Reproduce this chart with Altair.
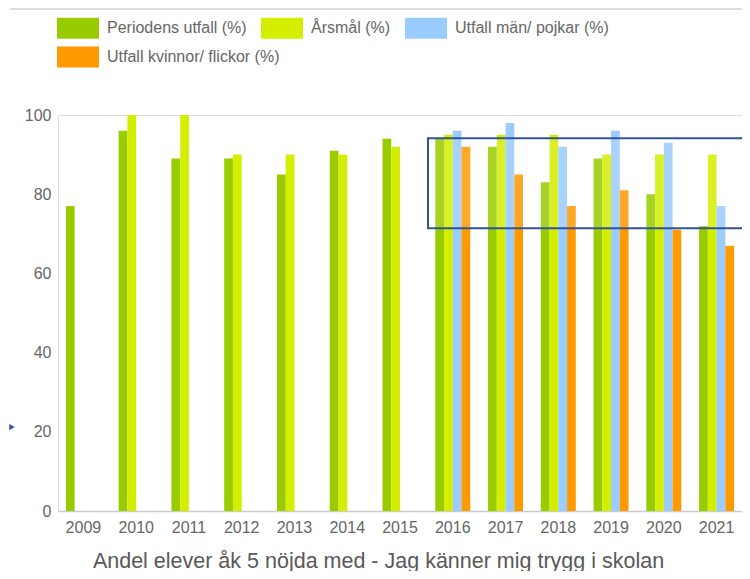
import altair as alt
import pandas as pd

years = ["2009", "2010", "2011", "2012", "2013", "2014", "2015",
         "2016", "2017", "2018", "2019", "2020", "2021"]
series_names = ["Periodens utfall (%)", "Årsmål (%)",
                "Utfall män/ pojkar (%)", "Utfall kvinnor/ flickor (%)"]
series_colors = ["#99cc00", "#d4ee00", "#99ccff", "#ff9900"]

periodens = [77, 96, 89, 89, 85, 91, 94, 94, 92, 83, 89, 80, 72]
arsmal = [None, 100, 100, 90, 90, 90, 92, 95, 95, 95, 90, 90, 90]
man = [None, None, None, None, None, None, None, 96, 98, 92, 96, 93, 77]
kvinnor = [None, None, None, None, None, None, None, 92, 85, 77, 81, 71, 67]

y_ticks = [0, 20, 40, 60, 80, 100]
x_title = "Andel elever åk 5 nöjda med - Jag känner mig trygg i skolan"

rows = []
for name, vals in zip(series_names, [periodens, arsmal, man, kvinnor]):
    for yr, v in zip(years, vals):
        if v is not None:
            rows.append({"year": yr, "series": name, "value": v})
df = pd.DataFrame(rows)
df_a = df[df["series"] != series_names[3]]
df_b = df[df["series"] == series_names[3]]

FONT = "Liberation Sans"
W, H = 684, 396

legend_common = dict(title=None, orient="none", legendX=-1, direction="horizontal",
                     symbolType="M-1,-0.5H1V0.5H-1Z", symbolSize=1764,
                     symbolStrokeWidth=0, symbolOpacity=1,
                     labelFontSize=16, labelColor="#666666",
                     labelFont=FONT, labelOffset=8, labelLimit=400,
                     columnPadding=14)

x_enc = alt.X("year:N", sort=years,
              scale=alt.Scale(domain=years, paddingInner=0.337, paddingOuter=0.15),
              axis=alt.Axis(title=x_title, labelAngle=0, ticks=False,
                            labelPadding=8, domainColor="#cccccc", domainWidth=1.5,
                            labelFontSize=16, labelColor="#666666", labelFont=FONT,
                            titleFontSize=21.5, titleColor="#595959", titleFont=FONT,
                            titleFontWeight="normal", titleX=320, titleY=39,
                            titleAlign="center", titleBaseline="top"))
xoff_enc = alt.XOffset("series:N",
                       scale=alt.Scale(domain=series_names, paddingInner=0, paddingOuter=0))
y_enc = alt.Y("value:Q", scale=alt.Scale(domain=[0, 100], nice=False),
              axis=alt.Axis(title=None, values=y_ticks, domain=False, ticks=False,
                            grid=False, labelPadding=7, labelFontSize=16,
                            labelColor="#666666", labelFont=FONT))

bars_a = alt.Chart(df_a).mark_bar().encode(
    x=x_enc, xOffset=xoff_enc, y=y_enc,
    color=alt.Color("series:N",
                    scale=alt.Scale(domain=series_names[:3], range=series_colors[:3]),
                    legend=alt.Legend(legendY=-108, **legend_common)),
)

bars_b = alt.Chart(df_b).mark_bar().encode(
    x=x_enc, xOffset=xoff_enc, y=y_enc,
    fill=alt.Fill("series:N",
                  scale=alt.Scale(domain=series_names[3:], range=series_colors[3:]),
                  legend=alt.Legend(legendY=-79, **legend_common)),
)

one = pd.DataFrame({"k": [0]})

box = alt.Chart(one).mark_rect(fill="white", fillOpacity=0.15,
                               stroke="#2f5597", strokeWidth=2).encode(
    x=alt.value(370), x2=alt.value(720),
    y=alt.Y(datum=94.1), y2=alt.Y2(datum=71.4),
)

top_line = alt.Chart(one).mark_rule(color="#dddddd", strokeWidth=2).encode(
    x=alt.value(-48), x2=alt.value(W + 20), y=alt.value(-106)
)

arrow = alt.Chart(one).mark_point(shape="triangle-right", filled=True,
                                  color="#2f5597", size=40, opacity=1).encode(
    x=alt.value(-46), y=alt.Y(datum=21.2)
)

chart = alt.layer(bars_a, bars_b, box, top_line, arrow).properties(
    width=W, height=H,
    autosize=alt.AutoSizeParams(type="none"),
    padding={"left": 50, "top": 107, "right": 0, "bottom": 60},
).configure_view(stroke=None).configure(font=FONT, background="white")

chart.save("out.html", embed_options={"renderer": "svg", "actions": False})
